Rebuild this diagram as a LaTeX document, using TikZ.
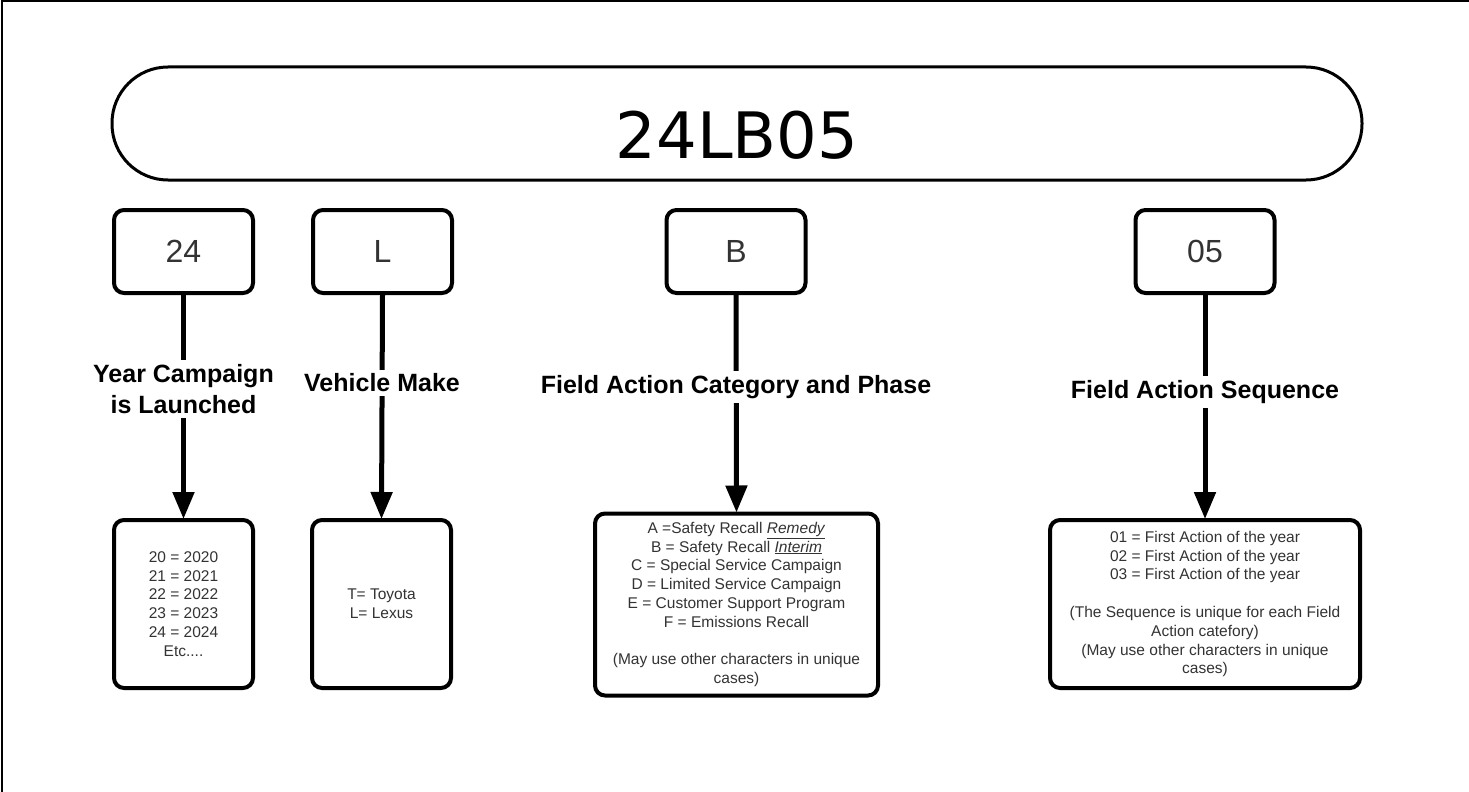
\documentclass[tikz,border=0pt]{standalone}
\usepackage{fontspec}
\setmainfont{Liberation Sans}
\newfontfamily\titlefont{DejaVu Sans}
\usetikzlibrary{arrows.meta}
\begin{document}
\begin{tikzpicture}[x=1pt,y=-1pt,
  pill/.style={draw, line width=3pt, rounded corners=56pt, minimum width=1250pt, minimum height=113pt,
    font=\titlefont\fontsize{64}{70}\selectfont, text height=69pt, text depth=0pt},
  topbox/.style={draw, line width=4pt, rounded corners=10pt, minimum width=139pt, minimum height=83pt,
    text=black!80, font=\fontsize{32}{36}\selectfont},
  lowbox/.style={draw, line width=4pt, rounded corners=10pt, align=center, text=black!80,
    font=\fontsize{15.5}{18.8}\selectfont, inner sep=0pt},
  lbl/.style={fill=white, align=center, font=\bfseries\fontsize{25}{31}\selectfont, inner sep=4pt},
  arr/.style={line width=5pt, -{Triangle[length=27pt,width=21pt]}, shorten >=-1pt}
]
\useasboundingbox (0,0) rectangle (1469,792);
\fill[white] (0,0) rectangle (1469,792);
\coordinate (tl) at (1.5,1);
\coordinate (tr) at (1469,1);
\coordinate (bl) at (1.5,792);
\draw[line width=2pt] (tr) -- (tl) -- (bl);

\node[pill] (title) at (737,123.5) {24LB05};

\node[topbox] (b1) at (183.5,251.5) {24};
\node[topbox] (b2) at (382.5,251.5) {L};
\node[topbox] (b3) at (736,251.5) {B};
\node[topbox] (b4) at (1205,251.5) {05};

\node[lowbox, minimum width=139pt, minimum height=168pt] (l1) at (183.5,604) {20 = 2020\\21 = 2021\\22 = 2022\\23 = 2023\\24 = 2024\\Etc....};
\node[lowbox, minimum width=139pt, minimum height=168pt] (l2) at (381.5,604) {T= Toyota\\L= Lexus};
\node[lowbox, minimum width=283pt, minimum height=182pt] (l3) at (736.5,604.5) {A =Safety Recall \underline{\textit{Remedy}}\\B = Safety Recall \underline{\textit{Interim}}\\C = Special Service Campaign\\D = Limited Service Campaign\\E = Customer Support Program\\F = Emissions Recall\\[18.8pt](May use other characters in unique\\cases)};
\node[lowbox, minimum width=310pt, minimum height=168pt] (l4) at (1205,604) {01 = First Action of the year\\02 = First Action of the year\\03 = First Action of the year\\[18.8pt](The Sequence is unique for each Field\\Action catefory)\\(May use other characters in unique\\cases)};

\draw[arr] (b1.south) -- (l1.north);
\draw[arr] (b2.south) -- (l2.north);
\draw[arr] (b3.south) -- (l3.north);
\draw[arr] (b4.south) -- (l4.north);

\node[lbl] (t1) at (183.5,389) {Year Campaign\\is Launched};
\node[lbl] (t2) at (382,383) {Vehicle Make};
\node[lbl] (t3) at (736,387) {Field Action Category and Phase};
\node[lbl] (t4) at (1205,392) {Field Action Sequence};
\end{tikzpicture}
\end{document}
